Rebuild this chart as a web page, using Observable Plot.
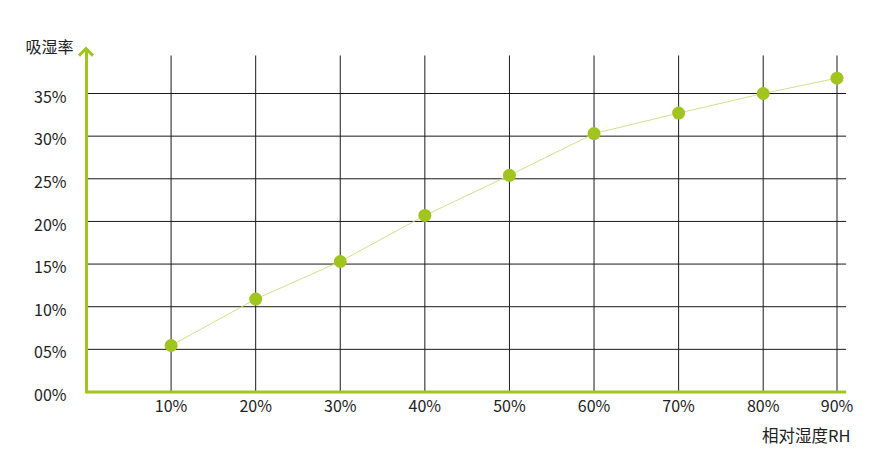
<!DOCTYPE html>
<html>
<head>
<meta charset="utf-8">
<script src="https://cdn.jsdelivr.net/npm/d3@7"></script>
<script src="https://cdn.jsdelivr.net/npm/@observablehq/plot@0.6"></script>
<style>
  html, body { margin: 0; padding: 0; background: #fff; }
  #chart { width: 884px; height: 469px; }
</style>
</head>
<body>
<div id="chart"></div>
<script>
// Data
const humidity = [10, 20, 30, 40, 50, 60, 70, 80, 90];             // 相对湿度 RH (%)
const absorption = [5.45, 10.9, 15.3, 20.7, 25.4, 30.3, 32.7, 35.0, 36.8]; // 吸湿率 (%)
const xTickLabels = ["10%", "20%", "30%", "40%", "50%", "60%", "70%", "80%", "90%"];
const yTicks = [0, 5, 10, 15, 20, 25, 30, 35];
const yTickLabels = ["00%", "05%", "10%", "15%", "20%", "25%", "30%", "35%"];
const yTitle = "吸湿率";
const xTitle = "相对湿度RH";

const data = humidity.map((h, i) => ({ h, v: absorption[i] }));

const GREEN = "#a2c41f";
const LINE = "#cfe08e";
const GRID = "#1a1a1a";
const TEXT = "#222";
const FONT = "'Noto Sans CJK SC', 'Noto Sans', sans-serif";

const xEnd = 91.3;   // end of horizontal axis / grid (beyond last tick)
const gridTop = 39.4; // top of vertical grid lines
const axisTop = 40.2; // top of vertical axis (arrow apex)

const arrowHead = (index, scales) => {
  const x = scales.x(0), y = scales.y(axisTop);
  const p = document.createElementNS("http://www.w3.org/2000/svg", "path");
  p.setAttribute("d", `M${x - 7},${y + 7}L${x},${y}L${x + 7},${y + 7}`);
  p.setAttribute("fill", "none");
  p.setAttribute("stroke", GREEN);
  p.setAttribute("stroke-width", 3);
  return p;
};

const plot = Plot.plot({
  width: 884,
  height: 469,
  marginLeft: 86,
  marginRight: 38,
  marginTop: 40,
  marginBottom: 78,
  style: { fontFamily: FONT, background: "#fff" },
  x: { type: "linear", domain: [0, 80, 90], range: [86, 762.7, 836.5], axis: null },
  y: { type: "linear", domain: [0, 35], range: [391.5, 93], axis: null },
  marks: [
    // grid
    Plot.ruleY(yTicks.slice(1), { y: d => d, x1: 0, x2: xEnd, stroke: GRID, strokeWidth: 1 }),
    Plot.ruleX(humidity, { x: d => d, y1: 0, y2: gridTop, stroke: GRID, strokeWidth: 1 }),
    // axes
    Plot.ruleY([0], { x1: 0, x2: xEnd, stroke: GREEN, strokeWidth: 3 }),
    Plot.ruleX([0], { y1: -0.2, y2: axisTop, stroke: GREEN, strokeWidth: 3 }),
    arrowHead,
    // series
    Plot.line(data, { x: "h", y: "v", stroke: LINE, strokeWidth: 1 }),
    Plot.dot(data, { x: "h", y: "v", r: 6.5, fill: GREEN, stroke: "none" }),
    // tick labels
    Plot.text(yTicks, { x: 0, y: d => d, text: (d, i) => yTickLabels[i], textAnchor: "end", dx: -20, dy: 4, fontSize: 16, fill: TEXT }),
    Plot.text(humidity, { x: d => d, y: 0, text: (d, i) => xTickLabels[i], textAnchor: "middle", dy: 15, fontSize: 16, fill: TEXT }),
    // titles
    Plot.text([yTitle], { frameAnchor: "top-left", text: d => d, dx: -61, dy: 1, textAnchor: "start", fontSize: 16, fill: TEXT }),
    Plot.text([xTitle], { frameAnchor: "bottom-right", text: d => d, dx: 4, dy: 50, textAnchor: "end", fontSize: 16.5, fill: TEXT })
  ]
});

document.getElementById("chart").appendChild(plot);
</script>
</body>
</html>
